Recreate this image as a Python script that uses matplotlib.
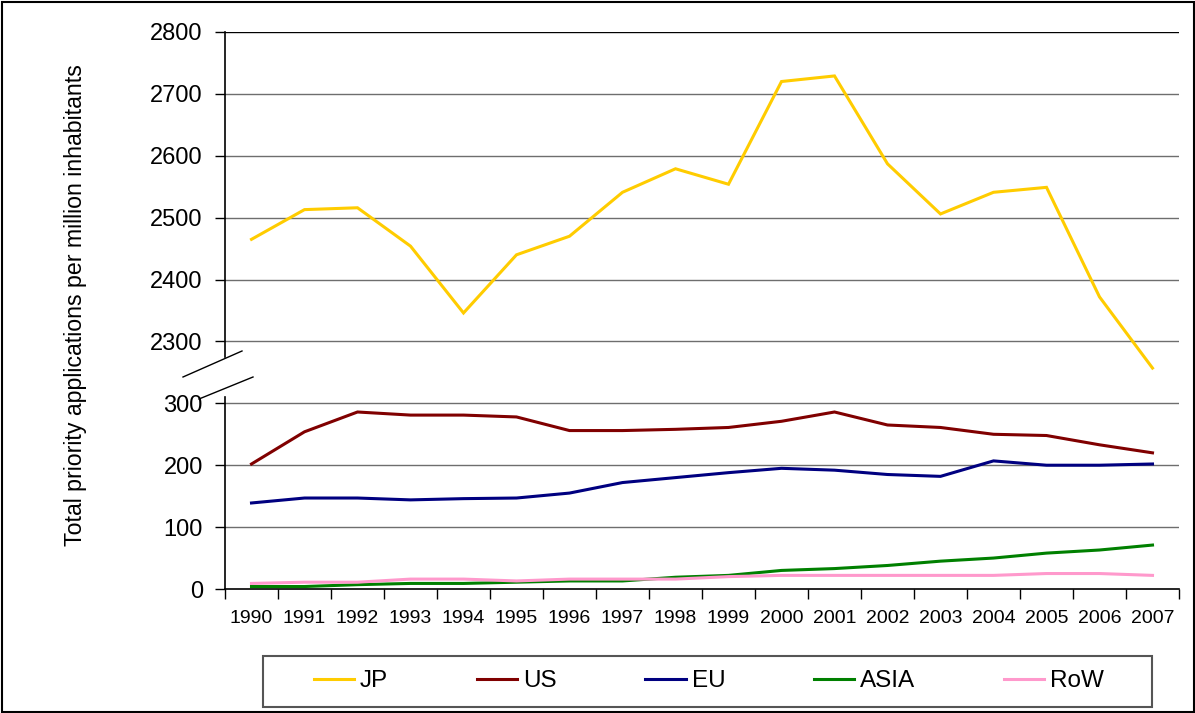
import matplotlib
matplotlib.use("Agg")
import matplotlib.pyplot as plt
from matplotlib.lines import Line2D
from matplotlib.patches import Rectangle

years = [str(y) for y in range(1990, 2008)]
JP = [2465, 2513, 2516, 2454, 2346, 2440, 2470, 2541, 2579, 2554, 2720, 2729, 2587, 2506, 2541, 2549, 2372, 2257]
US = [202, 254, 286, 281, 281, 278, 256, 256, 258, 261, 271, 286, 265, 261, 250, 248, 233, 220]
EU = [139, 147, 147, 144, 146, 147, 155, 172, 180, 188, 195, 192, 185, 182, 207, 200, 200, 202]
ASIA = [4, 4, 7, 9, 9, 11, 13, 13, 19, 22, 30, 33, 38, 45, 50, 58, 63, 71]
RoW = [9, 11, 11, 16, 16, 13, 16, 16, 16, 20, 22, 22, 22, 22, 22, 25, 25, 22]
ytick_labels = ["0", "100", "200", "300", "2300", "2400", "2500", "2600", "2700", "2800"]
BREAK_OFFSET = 1900  # upper segment: value - 1900 on the drawn scale

plt.rcParams['font.family'] = ['Liberation Sans', 'DejaVu Sans']

W, H = 1195, 713
fig = plt.figure(figsize=(W / 100, H / 100), dpi=100)
ax = fig.add_axes([225 / W, 1 - 589 / H, (1179 - 225) / W, (589 - 32) / H])

x = [i + 0.5 for i in range(len(years))]
series = [
    ("JP", [v - BREAK_OFFSET for v in JP], "#FFCC00"),
    ("US", US, "#800000"),
    ("EU", EU, "#000080"),
    ("ASIA", ASIA, "#008000"),
    ("RoW", RoW, "#FF99CC"),
]
handles = []
for name, vals, col in series:
    h, = ax.plot(x, vals, color=col, lw=2.2, label=name, solid_joinstyle='miter', zorder=3)
    handles.append(h)

ax.set_xlim(0, len(years))
ax.set_ylim(0, 900)
yt = [i * 100 for i in range(10)]
ax.set_yticks(yt)
ax.set_yticklabels(ytick_labels, fontsize=17)
for yv in yt[1:]:
    ax.axhline(yv, color='#000000' if yv == 900 else '#6e6e6e', lw=1.0, zorder=1)

ax.set_xticks(range(len(years) + 1))
ax.set_xticklabels([])
ax.set_xticks(x, minor=True)
ax.set_xticklabels(years, minor=True, fontsize=14)
ax.tick_params(axis='x', which='major', length=7, width=1, direction='out')
ax.tick_params(axis='x', which='minor', length=0, pad=15)
ax.tick_params(axis='y', length=7, width=1, direction='out', pad=9)

for s in ['top', 'right', 'left']:
    ax.spines[s].set_visible(False)
ax.spines['bottom'].set_linewidth(1.2)

# broken left axis
ax.plot([0, 0], [0, 310], color='black', lw=1.2, clip_on=False, zorder=4)
ax.plot([0, 0], [375, 900], color='black', lw=1.2, clip_on=False, zorder=4)

ax.set_ylabel("Total priority applications per million inhabitants", fontsize=16.7)
ax.yaxis.set_label_coords(-0.1445, 0.51)

def fl(x0, y0, x1, y1):
    fig.add_artist(Line2D([x0 / W, x1 / W], [1 - y0 / H, 1 - y1 / H], color='black', lw=1.0))

fl(183, 377, 242, 351)
fl(199, 399, 253, 377)

# legend box
fig.add_artist(Rectangle((263 / W, 1 - 707 / H), (1152 - 263) / W, (707 - 656) / H,
                         transform=fig.transFigure, fill=False, edgecolor='#555555', lw=1.5))
leg = fig.legend(handles=handles, loc='center', ncol=5,
                 bbox_to_anchor=(709 / W, 1 - 681 / H),
                 fontsize=17.5, frameon=False,
                 handlelength=1.65, handletextpad=0.25, columnspacing=3.65, borderaxespad=0)

fig.add_artist(Rectangle((1.5 / W, 1.5 / H), (W - 3) / W, (H - 3) / H, transform=fig.transFigure,
                         fill=False, edgecolor='black', lw=1.5))

fig.savefig("out.png", dpi=100)
